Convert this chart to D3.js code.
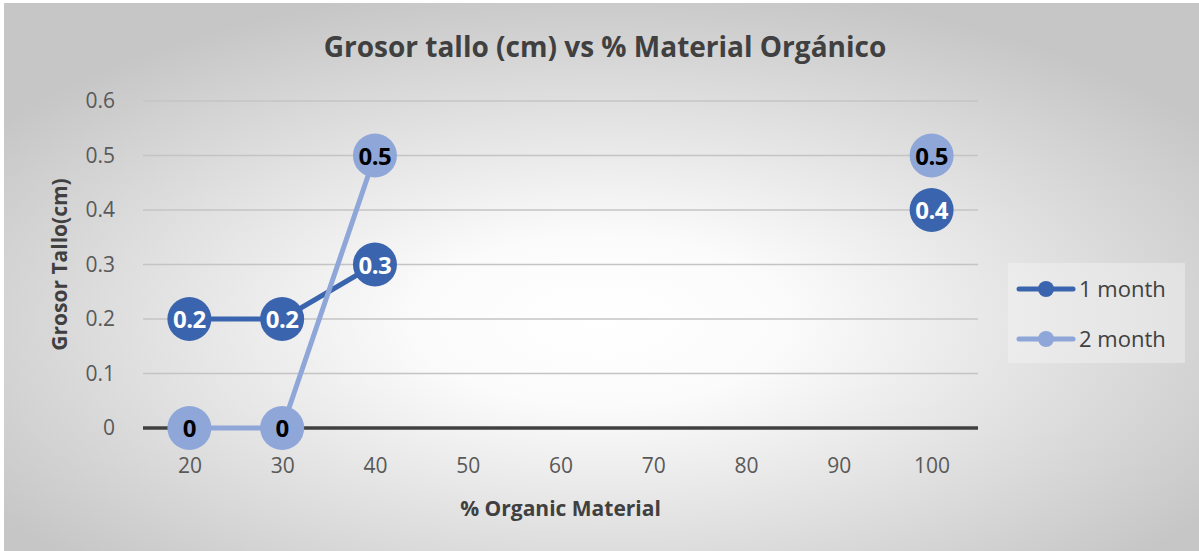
<!DOCTYPE html>
<html>
<head>
<meta charset="utf-8">
<script src="https://cdn.jsdelivr.net/npm/d3@7"></script>
<style>
  html, body { margin: 0; padding: 0; background: #fff; }
  svg text { font-family: "Open Sans", sans-serif; }
</style>
</head>
<body>
<div id="container"></div>
<script>
// chart data
var categories = [20, 30, 40, 50, 60, 70, 80, 90, 100];
var month1 = [0.2, 0.2, 0.3, null, null, null, null, null, 0.4];
var month2 = [0, 0, 0.5, null, null, null, null, null, 0.5];
var yTicks = [0, 0.1, 0.2, 0.3, 0.4, 0.5, 0.6];
var seriesNames = ["1 month", "2 month"];

var w = 1199, h = 551;
var margin = {top: 101, right: 221, bottom: 123, left: 143};

var svg = d3.select("div#container")
  .append("svg")
  .attr("width", w)
  .attr("height", h);

// background gradient like the spreadsheet chart area
var defs = svg.append("defs");
var grad = defs.append("radialGradient")
  .attr("id", "bg")
  .attr("cx", "50%").attr("cy", "58%").attr("r", "62%");
grad.append("stop").attr("offset", "0%").attr("stop-color", "#ffffff");
grad.append("stop").attr("offset", "25%").attr("stop-color", "#fbfbfb");
grad.append("stop").attr("offset", "100%").attr("stop-color", "#c6c6c6");

svg.append("rect")
  .attr("x", 4).attr("y", 3)
  .attr("width", w - 4).attr("height", h - 3)
  .attr("fill", "url(#bg)");

var x = d3.scalePoint()
  .domain(categories)
  .range([margin.left, w - margin.right])
  .padding(0.5);

var y = d3.scaleLinear()
  .domain([0, 0.6])
  .range([h - margin.bottom, margin.top]);

// gridlines
svg.append("g")
  .selectAll("line")
  .data(yTicks.filter(function(d) { return d > 0; }))
  .enter().append("line")
  .attr("x1", margin.left).attr("x2", w - margin.right)
  .attr("y1", function(d) { return y(d); })
  .attr("y2", function(d) { return y(d); })
  .attr("stroke", "#c4c4c4")
  .attr("stroke-width", 1.3);

// y axis labels
var yAxis = svg.append("g")
  .attr("transform", "translate(" + (margin.left - 25) + ",0)")
  .call(d3.axisLeft(y).tickValues(yTicks).tickSize(0).tickFormat(d3.format("")));
yAxis.select(".domain").remove();
yAxis.selectAll("text")
  .attr("font-size", 21)
  .attr("fill", "#595959");

// x axis labels
var xAxis = svg.append("g")
  .attr("transform", "translate(0," + (h - margin.bottom + 27) + ")")
  .call(d3.axisBottom(x).tickSize(0));
xAxis.select(".domain").remove();
xAxis.selectAll("text")
  .attr("font-size", 21)
  .attr("fill", "#595959");

// zero line
svg.append("line")
  .attr("x1", margin.left).attr("x2", w - margin.right)
  .attr("y1", y(0)).attr("y2", y(0))
  .attr("stroke", "#404040")
  .attr("stroke-width", 3.5);

// titles
svg.append("text")
  .attr("x", 605).attr("y", 57)
  .attr("text-anchor", "middle")
  .attr("font-size", 28)
  .attr("font-weight", "bold")
  .attr("fill", "#404040")
  .text("Grosor tallo (cm) vs % Material Orgánico");

svg.append("text")
  .attr("x", (margin.left + w - margin.right) / 2).attr("y", 516)
  .attr("text-anchor", "middle")
  .attr("font-size", 21)
  .attr("font-weight", "bold")
  .attr("fill", "#404040")
  .text("% Organic Material");

svg.append("text")
  .attr("transform", "translate(67," + y(0.3) + ") rotate(-90)")
  .attr("text-anchor", "middle")
  .attr("font-size", 21)
  .attr("font-weight", "bold")
  .attr("fill", "#404040")
  .text("Grosor Tallo(cm)");

// series
var series = [
  {name: seriesNames[0], values: month1, color: "#3a65ae", label: "#ffffff"},
  {name: seriesNames[1], values: month2, color: "#8ea6d8", label: "#000000"}
];

var line = d3.line()
  .defined(function(d) { return d.v !== null; })
  .x(function(d) { return x(d.c); })
  .y(function(d) { return y(d.v); });

series.forEach(function(s) {
  var pts = categories.map(function(c, i) { return {c: c, v: s.values[i]}; });
  var g = svg.append("g");
  g.append("path")
    .datum(pts)
    .attr("fill", "none")
    .attr("stroke", s.color)
    .attr("stroke-width", 5)
    .attr("d", line);
  var dots = pts.filter(function(d) { return d.v !== null; });
  g.selectAll("circle")
    .data(dots)
    .enter().append("circle")
    .attr("cx", function(d) { return x(d.c); })
    .attr("cy", function(d) { return y(d.v); })
    .attr("r", 22)
    .attr("fill", s.color);
  g.selectAll("text")
    .data(dots)
    .enter().append("text")
    .attr("x", function(d) { return x(d.c); })
    .attr("y", function(d) { return y(d.v) + 9; })
    .attr("text-anchor", "middle")
    .attr("font-size", 24)
    .attr("font-weight", "bold")
    .attr("letter-spacing", -0.5)
    .attr("fill", s.label)
    .text(function(d) { return d.v; });
});

// legend
var legend = svg.append("g");
legend.append("rect")
  .attr("x", 1008).attr("y", 263)
  .attr("width", 177).attr("height", 100)
  .attr("fill", "#f4f4f4")
  .attr("opacity", 0.45);

series.forEach(function(s, i) {
  var ly = 289 + i * 50;
  legend.append("line")
    .attr("x1", 1019).attr("x2", 1073)
    .attr("y1", ly).attr("y2", ly)
    .attr("stroke", s.color)
    .attr("stroke-width", 5)
    .attr("stroke-linecap", "round");
  legend.append("circle")
    .attr("cx", 1046).attr("cy", ly)
    .attr("r", 8)
    .attr("fill", s.color);
  legend.append("text")
    .attr("x", 1079).attr("y", ly + 8)
    .attr("font-size", 22)
    .attr("fill", "#404040")
    .text(s.name);
});
</script>
</body>
</html>
